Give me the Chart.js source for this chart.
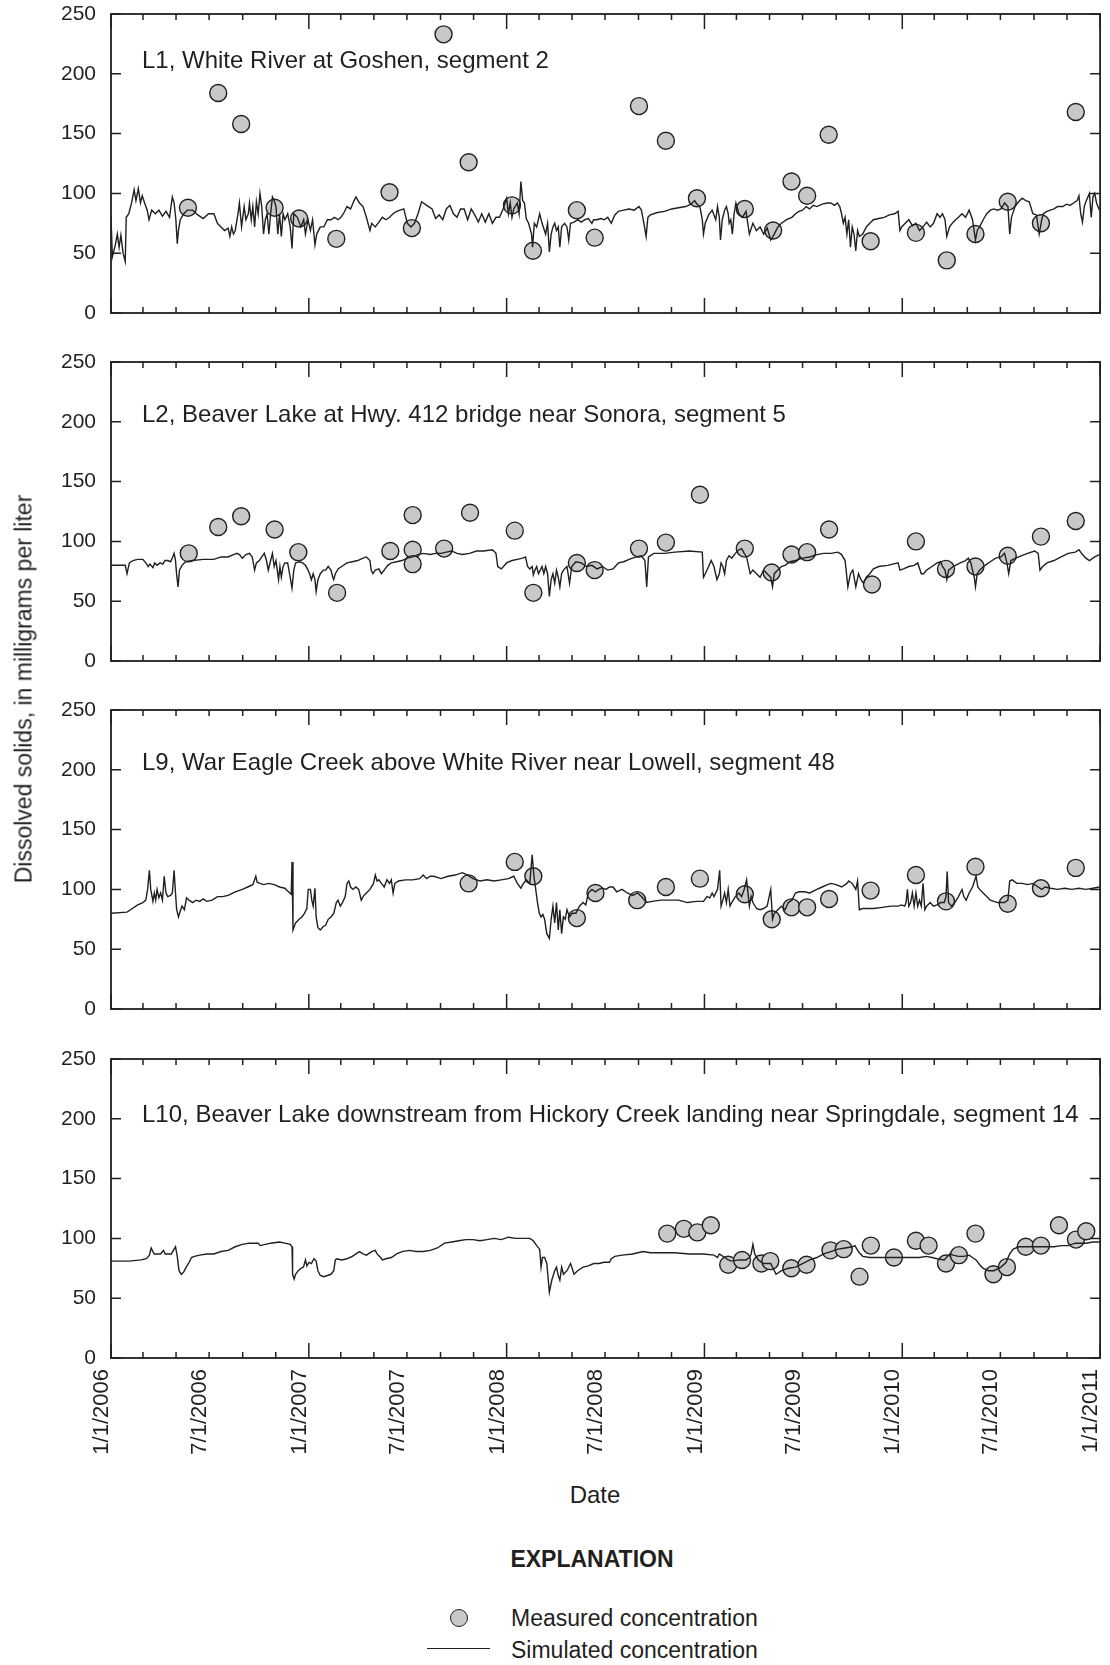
<!DOCTYPE html>
<html><head><meta charset="utf-8">
<script src="https://cdn.jsdelivr.net/npm/chart.js@4.4.1/dist/chart.umd.min.js"></script>
<style>
html,body{margin:0;padding:0;background:#fff;}
body{width:1110px;height:1665px;position:relative;overflow:hidden;font-family:'Liberation Sans',Arial,sans-serif;color:#231f20;}
canvas{position:absolute;left:0;}
.t{position:absolute;white-space:nowrap;line-height:1;}
</style></head><body>
<canvas id="c1" width="1110" height="327" style="top:0px"></canvas>
<canvas id="c2" width="1110" height="327" style="top:348px"></canvas>
<canvas id="c3" width="1110" height="327" style="top:696px"></canvas>
<canvas id="c4" width="1110" height="433" style="top:1045px"></canvas>
<div class="t" style="left:24px;top:689px;font-size:23px;transform:translate(-50%,-50%) rotate(-90deg)">Dissolved solids, in milligrams per liter</div>
<div class="t" style="left:595px;top:1482.7px;font-size:24px;transform:translateX(-50%)">Date</div>
<div class="t" style="left:592px;top:1547.5px;font-size:23px;font-weight:bold;transform:translateX(-50%)">EXPLANATION</div>
<div style="position:absolute;left:449.5px;top:1608.5px;width:18px;height:18px;box-sizing:border-box;border:1.5px solid #231f20;border-radius:50%;background:#c8c8c8"></div>
<div class="t" style="left:511px;top:1607px;font-size:23px">Measured concentration</div>
<div style="position:absolute;left:427px;top:1647.5px;width:63px;height:1.5px;background:#231f20"></div>
<div class="t" style="left:511px;top:1639px;font-size:23px">Simulated concentration</div>
<script>
// ---------------- DATA (x = decimal year, y = dissolved solids, mg/L) ----------------
const PANEL_TITLES = [
  'L1, White River at Goshen, segment 2',
  'L2, Beaver Lake at Hwy. 412 bridge near Sonora, segment 5',
  'L9, War Eagle Creek above White River near Lowell, segment 48',
  'L10, Beaver Lake downstream from Hickory Creek landing near Springdale, segment 14'
];
const Y_TICKS = [0, 50, 100, 150, 200, 250];
const X_LABELS = ['1/1/2006','7/1/2006','1/1/2007','7/1/2007','1/1/2008','7/1/2008','1/1/2009','7/1/2009','1/1/2010','7/1/2010','1/1/2011'];

const L1_MEAS = [[2006.389,88],[2006.542,184],[2006.658,158],[2006.827,88],[2006.951,79],[2007.139,62],[2007.408,101],[2007.521,71],[2007.681,233],[2007.808,126],[2008.027,90],[2008.133,52],[2008.355,86],[2008.445,63],[2008.669,173],[2008.805,144],[2008.962,96],[2009.204,87],[2009.347,69],[2009.440,110],[2009.519,98],[2009.628,149],[2009.840,60],[2010.069,67],[2010.225,44],[2010.370,66],[2010.533,93],[2010.701,75],[2010.877,168]];
const L2_MEAS = [[2006.393,90],[2006.542,112],[2006.658,121],[2006.827,110],[2006.947,91],[2007.143,57],[2007.412,92],[2007.525,122],[2007.525,93],[2007.525,81],[2007.684,94],[2007.815,124],[2008.041,109],[2008.135,57],[2008.355,82],[2008.445,76],[2008.669,94],[2008.805,99],[2008.977,139],[2009.204,94],[2009.340,74],[2009.440,89],[2009.519,91],[2009.630,110],[2009.847,64],[2010.069,100],[2010.221,77],[2010.370,79],[2010.533,88],[2010.701,104],[2010.877,117]];
const L9_MEAS = [[2007.808,105],[2008.041,123],[2008.135,111],[2008.355,76],[2008.449,97],[2008.660,91],[2008.805,102],[2008.977,109],[2009.204,96],[2009.340,75],[2009.440,85],[2009.519,85],[2009.630,92],[2009.840,99],[2010.069,112],[2010.221,90],[2010.370,119],[2010.533,88],[2010.701,101],[2010.877,118]];
const L10_MEAS = [[2008.812,104],[2008.896,108],[2008.964,105],[2009.032,111],[2009.120,78],[2009.190,82],[2009.288,79],[2009.333,81],[2009.439,75],[2009.516,78],[2009.637,90],[2009.704,91],[2009.784,68],[2009.841,94],[2009.958,84],[2010.069,98],[2010.133,94],[2010.221,79],[2010.286,86],[2010.370,104],[2010.461,70],[2010.529,76],[2010.624,93],[2010.701,94],[2010.792,111],[2010.878,99],[2010.930,106]];

const L1_SIM = [[2006.000,80],[2006.007,47],[2006.022,57],[2006.032,66],[2006.041,55],[2006.050,65],[2006.061,50],[2006.072,43],[2006.077,80],[2006.090,83],[2006.104,92],[2006.117,103],[2006.126,94],[2006.138,104],[2006.149,92],[2006.158,98],[2006.170,92],[2006.183,86],[2006.192,78],[2006.206,86],[2006.224,83],[2006.242,86],[2006.260,81],[2006.278,85],[2006.296,80],[2006.310,97],[2006.319,92],[2006.328,78],[2006.335,58],[2006.341,69],[2006.350,78],[2006.368,83],[2006.386,86],[2006.413,86],[2006.439,82],[2006.466,79],[2006.493,83],[2006.520,83],[2006.538,75],[2006.556,72],[2006.574,69],[2006.592,71],[2006.601,64],[2006.610,72],[2006.619,66],[2006.628,69],[2006.642,83],[2006.649,92],[2006.660,72],[2006.673,89],[2006.682,78],[2006.694,83],[2006.700,92],[2006.709,78],[2006.717,89],[2006.726,72],[2006.735,93],[2006.744,83],[2006.753,100],[2006.762,89],[2006.771,66],[2006.780,78],[2006.789,83],[2006.798,66],[2006.807,83],[2006.816,97],[2006.825,94],[2006.834,89],[2006.843,66],[2006.852,83],[2006.861,64],[2006.870,83],[2006.879,78],[2006.893,83],[2006.906,72],[2006.915,54],[2006.924,83],[2006.942,80],[2006.960,72],[2006.974,78],[2006.983,66],[2006.996,78],[2007.008,69],[2007.019,78],[2007.031,57],[2007.040,66],[2007.058,72],[2007.076,72],[2007.094,78],[2007.112,78],[2007.130,80],[2007.148,78],[2007.162,80],[2007.175,83],[2007.193,89],[2007.211,87],[2007.229,94],[2007.238,97],[2007.256,92],[2007.274,89],[2007.291,80],[2007.309,69],[2007.318,75],[2007.336,72],[2007.354,76],[2007.372,80],[2007.390,78],[2007.408,80],[2007.426,83],[2007.444,85],[2007.462,86],[2007.480,87],[2007.498,75],[2007.516,72],[2007.534,75],[2007.552,83],[2007.570,93],[2007.596,90],[2007.623,87],[2007.641,79],[2007.659,82],[2007.677,78],[2007.695,87],[2007.713,90],[2007.731,83],[2007.749,80],[2007.767,87],[2007.785,87],[2007.803,78],[2007.821,87],[2007.839,82],[2007.857,76],[2007.874,83],[2007.892,76],[2007.910,83],[2007.928,75],[2007.946,80],[2007.964,80],[2007.982,87],[2008.000,96],[2008.009,83],[2008.018,92],[2008.027,80],[2008.036,87],[2008.054,92],[2008.063,83],[2008.072,110],[2008.081,94],[2008.090,92],[2008.099,79],[2008.111,75],[2008.126,66],[2008.131,55],[2008.140,75],[2008.152,72],[2008.167,83],[2008.179,75],[2008.197,66],[2008.207,75],[2008.216,51],[2008.225,66],[2008.234,72],[2008.243,75],[2008.252,69],[2008.261,72],[2008.269,55],[2008.278,72],[2008.293,75],[2008.305,72],[2008.314,61],[2008.323,75],[2008.341,76],[2008.359,78],[2008.377,76],[2008.395,78],[2008.413,79],[2008.431,75],[2008.440,78],[2008.457,78],[2008.475,79],[2008.493,78],[2008.511,80],[2008.529,75],[2008.547,82],[2008.565,85],[2008.592,86],[2008.619,87],[2008.645,86],[2008.669,89],[2008.681,86],[2008.694,75],[2008.705,64],[2008.714,80],[2008.726,82],[2008.762,84],[2008.798,85],[2008.834,87],[2008.869,88],[2008.905,89],[2008.932,91],[2008.950,94],[2008.962,91],[2008.977,89],[2008.989,78],[2008.995,66],[2009.004,75],[2009.021,82],[2009.039,86],[2009.057,78],[2009.066,89],[2009.075,80],[2009.081,61],[2009.090,78],[2009.102,86],[2009.111,89],[2009.120,83],[2009.125,75],[2009.133,78],[2009.141,66],[2009.150,83],[2009.159,92],[2009.174,83],[2009.192,80],[2009.210,85],[2009.227,66],[2009.245,75],[2009.263,69],[2009.281,72],[2009.299,66],[2009.317,71],[2009.335,61],[2009.353,66],[2009.371,72],[2009.389,75],[2009.415,78],[2009.442,80],[2009.460,83],[2009.478,85],[2009.496,86],[2009.514,89],[2009.532,87],[2009.550,90],[2009.568,89],[2009.595,91],[2009.622,92],[2009.639,92],[2009.657,90],[2009.672,92],[2009.684,89],[2009.693,83],[2009.702,75],[2009.711,80],[2009.720,66],[2009.729,78],[2009.738,55],[2009.747,72],[2009.756,66],[2009.765,52],[2009.774,69],[2009.783,64],[2009.800,66],[2009.818,72],[2009.836,75],[2009.854,78],[2009.881,79],[2009.908,80],[2009.935,82],[2009.961,83],[2009.979,85],[2009.988,69],[2009.997,72],[2010.015,75],[2010.033,78],[2010.051,73],[2010.069,75],[2010.087,69],[2010.105,72],[2010.123,76],[2010.141,72],[2010.158,75],[2010.176,83],[2010.191,80],[2010.203,83],[2010.216,78],[2010.225,64],[2010.239,72],[2010.257,76],[2010.284,80],[2010.302,83],[2010.320,80],[2010.338,86],[2010.355,78],[2010.370,61],[2010.379,69],[2010.391,72],[2010.409,78],[2010.427,83],[2010.445,86],[2010.463,87],[2010.481,86],[2010.499,87],[2010.517,92],[2010.534,89],[2010.543,66],[2010.552,80],[2010.570,89],[2010.588,93],[2010.606,96],[2010.624,94],[2010.642,93],[2010.660,83],[2010.678,82],[2010.692,66],[2010.705,78],[2010.713,83],[2010.731,85],[2010.749,86],[2010.767,87],[2010.785,89],[2010.812,89],[2010.830,91],[2010.848,90],[2010.866,92],[2010.884,94],[2010.893,98],[2010.902,83],[2010.911,76],[2010.920,89],[2010.928,93],[2010.946,100],[2010.955,80],[2010.964,97],[2010.973,100],[2010.982,92],[2010.997,86]];

const L2_SIM = [[2006.000,80],[2006.072,80],[2006.081,73],[2006.093,82],[2006.111,84],[2006.135,85],[2006.161,85],[2006.176,82],[2006.188,79],[2006.197,81],[2006.212,78],[2006.221,82],[2006.233,80],[2006.248,82],[2006.262,81],[2006.273,84],[2006.287,84],[2006.301,83],[2006.312,87],[2006.319,90],[2006.326,84],[2006.332,72],[2006.339,62],[2006.346,76],[2006.359,80],[2006.377,83],[2006.413,84],[2006.466,85],[2006.520,85],[2006.556,87],[2006.592,87],[2006.619,89],[2006.637,90],[2006.649,89],[2006.664,86],[2006.682,89],[2006.700,90],[2006.714,87],[2006.726,76],[2006.735,82],[2006.750,84],[2006.762,87],[2006.775,90],[2006.786,84],[2006.795,76],[2006.807,84],[2006.816,90],[2006.825,79],[2006.834,84],[2006.847,68],[2006.854,79],[2006.861,70],[2006.870,79],[2006.879,82],[2006.893,82],[2006.906,70],[2006.915,61],[2006.924,76],[2006.933,82],[2006.951,83],[2006.969,82],[2006.983,80],[2006.996,76],[2007.004,73],[2007.013,68],[2007.022,73],[2007.031,68],[2007.037,58],[2007.046,68],[2007.058,73],[2007.073,76],[2007.085,76],[2007.098,79],[2007.112,76],[2007.121,70],[2007.126,68],[2007.134,73],[2007.148,77],[2007.166,79],[2007.193,82],[2007.220,83],[2007.247,84],[2007.274,86],[2007.291,87],[2007.309,84],[2007.315,76],[2007.324,73],[2007.336,76],[2007.354,77],[2007.367,73],[2007.381,76],[2007.399,80],[2007.417,82],[2007.444,83],[2007.471,84],[2007.498,86],[2007.525,87],[2007.552,89],[2007.578,90],[2007.614,89],[2007.641,90],[2007.668,90],[2007.695,91],[2007.722,92],[2007.749,90],[2007.776,89],[2007.812,90],[2007.848,92],[2007.883,92],[2007.928,93],[2007.946,90],[2007.955,79],[2007.973,77],[2008.000,82],[2008.027,84],[2008.054,85],[2008.081,86],[2008.095,87],[2008.106,79],[2008.117,77],[2008.129,79],[2008.135,72],[2008.143,76],[2008.152,79],[2008.161,73],[2008.170,76],[2008.179,79],[2008.188,73],[2008.197,79],[2008.207,73],[2008.216,54],[2008.225,68],[2008.234,73],[2008.243,65],[2008.252,76],[2008.261,70],[2008.269,62],[2008.278,73],[2008.287,76],[2008.305,79],[2008.318,65],[2008.329,79],[2008.350,83],[2008.377,82],[2008.404,79],[2008.431,80],[2008.457,77],[2008.484,79],[2008.511,76],[2008.538,77],[2008.565,82],[2008.592,83],[2008.619,85],[2008.655,87],[2008.681,88],[2008.699,84],[2008.708,62],[2008.717,87],[2008.744,90],[2008.798,90],[2008.851,91],[2008.923,92],[2008.989,91],[2008.995,70],[2009.004,73],[2009.021,79],[2009.034,84],[2009.048,79],[2009.063,68],[2009.075,73],[2009.084,82],[2009.093,79],[2009.102,73],[2009.111,84],[2009.124,88],[2009.138,86],[2009.156,90],[2009.174,93],[2009.188,94],[2009.201,90],[2009.213,87],[2009.231,73],[2009.245,76],[2009.263,73],[2009.281,70],[2009.299,76],[2009.317,73],[2009.335,70],[2009.344,62],[2009.353,73],[2009.371,76],[2009.389,79],[2009.407,80],[2009.433,83],[2009.460,84],[2009.496,86],[2009.532,87],[2009.568,89],[2009.603,90],[2009.639,90],[2009.675,91],[2009.693,89],[2009.711,84],[2009.725,62],[2009.738,73],[2009.750,76],[2009.765,62],[2009.779,73],[2009.791,68],[2009.804,65],[2009.818,70],[2009.836,73],[2009.854,77],[2009.881,79],[2009.926,80],[2009.979,82],[2009.988,76],[2010.006,77],[2010.033,79],[2010.060,80],[2010.078,82],[2010.096,73],[2010.108,73],[2010.123,76],[2010.150,79],[2010.176,82],[2010.194,83],[2010.203,79],[2010.216,76],[2010.225,68],[2010.234,76],[2010.257,79],[2010.293,82],[2010.320,84],[2010.334,86],[2010.347,82],[2010.355,76],[2010.364,70],[2010.370,62],[2010.379,73],[2010.391,76],[2010.418,80],[2010.445,83],[2010.472,86],[2010.499,87],[2010.517,90],[2010.529,82],[2010.538,73],[2010.549,84],[2010.588,87],[2010.633,90],[2010.669,92],[2010.687,90],[2010.696,76],[2010.710,79],[2010.731,82],[2010.767,84],[2010.803,87],[2010.839,90],[2010.875,91],[2010.893,93],[2010.911,89],[2010.928,86],[2010.946,84],[2010.973,87],[2010.997,89]];

const L9_SIM = [[2006.000,80],[2006.081,81],[2006.108,84],[2006.135,87],[2006.161,89],[2006.176,91],[2006.185,100],[2006.194,116],[2006.201,100],[2006.212,90],[2006.219,97],[2006.226,91],[2006.233,100],[2006.242,93],[2006.251,97],[2006.260,91],[2006.269,111],[2006.278,97],[2006.287,94],[2006.301,95],[2006.310,97],[2006.319,116],[2006.326,97],[2006.332,83],[2006.341,77],[2006.350,82],[2006.359,86],[2006.371,83],[2006.382,93],[2006.395,91],[2006.413,89],[2006.430,91],[2006.448,90],[2006.466,92],[2006.484,90],[2006.511,91],[2006.538,94],[2006.565,94],[2006.592,95],[2006.628,98],[2006.664,100],[2006.691,102],[2006.717,104],[2006.732,111],[2006.739,106],[2006.753,105],[2006.771,104],[2006.798,105],[2006.825,104],[2006.852,102],[2006.879,101],[2006.897,98],[2006.911,96],[2006.915,123],[2006.920,66],[2006.933,72],[2006.951,75],[2006.965,77],[2006.978,80],[2006.990,84],[2006.997,100],[2007.008,100],[2007.015,91],[2007.022,86],[2007.031,101],[2007.037,77],[2007.046,68],[2007.058,66],[2007.073,69],[2007.085,70],[2007.098,75],[2007.112,77],[2007.126,80],[2007.139,89],[2007.148,91],[2007.159,86],[2007.170,89],[2007.184,94],[2007.193,105],[2007.202,107],[2007.211,102],[2007.223,100],[2007.238,102],[2007.252,100],[2007.265,91],[2007.274,94],[2007.291,97],[2007.309,100],[2007.327,105],[2007.336,112],[2007.345,107],[2007.354,108],[2007.367,105],[2007.381,102],[2007.395,108],[2007.408,105],[2007.417,108],[2007.426,97],[2007.435,105],[2007.453,107],[2007.489,108],[2007.525,108],[2007.561,109],[2007.578,112],[2007.596,109],[2007.614,111],[2007.632,111],[2007.668,109],[2007.704,111],[2007.740,112],[2007.776,114],[2007.803,112],[2007.830,109],[2007.865,107],[2007.901,108],[2007.937,107],[2007.973,108],[2008.009,109],[2008.036,111],[2008.054,105],[2008.072,101],[2008.081,104],[2008.099,108],[2008.117,105],[2008.129,129],[2008.138,111],[2008.147,100],[2008.156,89],[2008.165,80],[2008.174,77],[2008.183,79],[2008.192,75],[2008.203,63],[2008.216,59],[2008.225,75],[2008.234,86],[2008.243,72],[2008.252,89],[2008.261,66],[2008.269,83],[2008.278,63],[2008.287,77],[2008.296,75],[2008.305,83],[2008.318,77],[2008.332,80],[2008.350,80],[2008.368,86],[2008.386,89],[2008.400,87],[2008.413,97],[2008.431,100],[2008.449,98],[2008.466,100],[2008.484,101],[2008.502,100],[2008.520,102],[2008.538,102],[2008.556,98],[2008.583,100],[2008.610,97],[2008.637,95],[2008.663,97],[2008.681,94],[2008.708,89],[2008.735,90],[2008.780,91],[2008.825,91],[2008.869,91],[2008.914,89],[2008.959,90],[2008.995,90],[2009.013,94],[2009.027,93],[2009.039,97],[2009.048,94],[2009.066,100],[2009.077,116],[2009.084,86],[2009.093,91],[2009.102,97],[2009.111,89],[2009.120,100],[2009.129,86],[2009.138,89],[2009.156,94],[2009.174,97],[2009.188,94],[2009.201,100],[2009.213,108],[2009.227,86],[2009.236,94],[2009.245,89],[2009.263,84],[2009.281,83],[2009.299,84],[2009.317,86],[2009.335,100],[2009.344,75],[2009.353,80],[2009.371,83],[2009.389,86],[2009.407,83],[2009.424,89],[2009.442,91],[2009.460,97],[2009.478,98],[2009.505,98],[2009.532,97],[2009.568,100],[2009.595,102],[2009.621,104],[2009.639,105],[2009.666,104],[2009.693,102],[2009.720,105],[2009.729,107],[2009.747,105],[2009.765,100],[2009.774,107],[2009.783,83],[2009.800,84],[2009.818,84],[2009.854,84],[2009.899,85],[2009.943,86],[2009.979,86],[2009.997,87],[2010.012,86],[2010.019,89],[2010.026,100],[2010.033,86],[2010.042,89],[2010.051,97],[2010.060,86],[2010.069,97],[2010.078,86],[2010.087,91],[2010.096,86],[2010.105,105],[2010.114,83],[2010.123,86],[2010.141,89],[2010.158,86],[2010.176,87],[2010.194,89],[2010.212,89],[2010.221,94],[2010.227,115],[2010.234,89],[2010.248,86],[2010.266,89],[2010.284,94],[2010.302,100],[2010.311,94],[2010.323,91],[2010.338,97],[2010.355,102],[2010.373,111],[2010.382,102],[2010.391,100],[2010.409,97],[2010.427,94],[2010.445,91],[2010.463,90],[2010.481,89],[2010.499,89],[2010.517,89],[2010.534,91],[2010.543,107],[2010.556,108],[2010.579,105],[2010.606,105],[2010.633,104],[2010.660,105],[2010.687,102],[2010.705,100],[2010.722,102],[2010.749,101],[2010.785,100],[2010.821,101],[2010.857,100],[2010.893,101],[2010.928,100],[2010.964,101],[2010.997,102]];

const L10_SIM = [[2006.000,81],[2006.090,81],[2006.152,82],[2006.179,83],[2006.194,86],[2006.203,92],[2006.212,89],[2006.219,87],[2006.251,87],[2006.265,90],[2006.274,87],[2006.287,87],[2006.305,87],[2006.319,91],[2006.326,93],[2006.334,86],[2006.344,73],[2006.355,70],[2006.368,72],[2006.380,76],[2006.395,80],[2006.407,84],[2006.422,85],[2006.448,86],[2006.484,87],[2006.520,87],[2006.556,89],[2006.592,90],[2006.628,93],[2006.664,95],[2006.700,96],[2006.735,96],[2006.744,96],[2006.753,94],[2006.780,95],[2006.807,96],[2006.852,97],[2006.879,96],[2006.906,95],[2006.915,93],[2006.918,70],[2006.926,66],[2006.933,70],[2006.947,73],[2006.960,75],[2006.973,76],[2006.983,82],[2006.990,77],[2007.001,80],[2007.013,79],[2007.026,83],[2007.037,81],[2007.046,73],[2007.058,69],[2007.076,68],[2007.094,69],[2007.112,70],[2007.126,73],[2007.134,82],[2007.141,83],[2007.166,82],[2007.193,83],[2007.220,85],[2007.238,87],[2007.256,89],[2007.274,87],[2007.291,86],[2007.318,89],[2007.336,90],[2007.345,87],[2007.363,84],[2007.372,82],[2007.390,83],[2007.417,84],[2007.444,87],[2007.471,89],[2007.507,90],[2007.543,89],[2007.578,89],[2007.614,90],[2007.650,92],[2007.686,96],[2007.722,97],[2007.758,98],[2007.794,99],[2007.830,99],[2007.865,98],[2007.901,99],[2007.937,100],[2007.973,99],[2008.009,101],[2008.045,100],[2008.081,100],[2008.117,100],[2008.135,98],[2008.152,94],[2008.167,91],[2008.174,76],[2008.181,84],[2008.192,84],[2008.203,79],[2008.216,55],[2008.228,65],[2008.243,73],[2008.252,76],[2008.261,69],[2008.269,65],[2008.278,76],[2008.287,70],[2008.305,73],[2008.323,79],[2008.341,70],[2008.359,73],[2008.386,76],[2008.413,77],[2008.440,79],[2008.466,79],[2008.493,80],[2008.520,80],[2008.529,83],[2008.547,85],[2008.583,86],[2008.637,87],[2008.690,89],[2008.726,88],[2008.780,88],[2008.851,88],[2008.923,87],[2008.995,87],[2009.048,86],[2009.066,84],[2009.075,87],[2009.084,86],[2009.102,84],[2009.120,82],[2009.138,81],[2009.174,82],[2009.210,82],[2009.227,84],[2009.236,87],[2009.245,95],[2009.254,87],[2009.272,82],[2009.299,79],[2009.335,79],[2009.362,70],[2009.389,73],[2009.424,75],[2009.460,76],[2009.496,79],[2009.532,82],[2009.568,84],[2009.603,87],[2009.639,89],[2009.675,91],[2009.711,92],[2009.747,93],[2009.761,94],[2009.774,90],[2009.783,88],[2009.800,85],[2009.836,84],[2009.890,84],[2009.943,84],[2009.997,84],[2010.051,84],[2010.087,84],[2010.123,85],[2010.150,84],[2010.176,83],[2010.212,82],[2010.239,87],[2010.257,86],[2010.284,85],[2010.311,85],[2010.338,86],[2010.355,84],[2010.373,82],[2010.391,78],[2010.409,75],[2010.436,73],[2010.463,73],[2010.499,76],[2010.525,80],[2010.543,87],[2010.561,91],[2010.588,93],[2010.624,93],[2010.660,93],[2010.696,93],[2010.731,93],[2010.767,93],[2010.803,94],[2010.839,94],[2010.875,96],[2010.893,96],[2010.928,96],[2010.964,97],[2010.997,97]];

// ---------------- CHART SETUP ----------------
const INK = '#231f20';
const DOT = '#c8c8c8';
const SANS = "'Liberation Sans',Arial,sans-serif";

function decYear(y, m, d) {
  const a = Date.UTC(y, 0, 1), b = Date.UTC(y + 1, 0, 1);
  return y + (Date.UTC(y, m - 1, d) - a) / (b - a);
}
// x ticks: every two months, labels at 1/1 and 7/1
const X_TICKS = [];
for (let yr = 2006; yr <= 2011; yr++) {
  for (let m = 1; m <= 11; m += 2) {
    if (yr === 2011 && m > 1) break;
    const lab = m + '/1/' + yr;
    X_TICKS.push({ value: decYear(yr, m, 1), label: X_LABELS.includes(lab) ? lab : '', major: m === 1 });
  }
}

const deco = {
  id: 'deco',
  afterDatasetsDraw(chart, args, o) {
    const { ctx, chartArea: a, scales: { x, y } } = chart;
    ctx.save();
    ctx.strokeStyle = INK;
    ctx.lineWidth = 1.5;
    ctx.beginPath();
    X_TICKS.forEach(t => {
      const px = x.getPixelForValue(t.value);
      const len = t.major ? 15 : 6;
      ctx.moveTo(px, a.bottom); ctx.lineTo(px, a.bottom - len);
      ctx.moveTo(px, a.top); ctx.lineTo(px, a.top + len);
    });
    Y_TICKS.forEach(v => {
      const py = y.getPixelForValue(v);
      ctx.moveTo(a.left, py); ctx.lineTo(a.left + 10, py);
      ctx.moveTo(a.right, py); ctx.lineTo(a.right - 10, py);
    });
    ctx.stroke();
    ctx.lineWidth = 1.8;
    ctx.strokeRect(a.left, a.top, a.right - a.left, a.bottom - a.top);
    ctx.fillStyle = INK;
    ctx.font = '24px ' + SANS;
    ctx.textAlign = 'left';
    ctx.textBaseline = 'alphabetic';
    ctx.fillText(o.title, 142, o.titleY);
    ctx.restore();
  }
};

function toXY(arr) { return arr.map(p => ({ x: p[0], y: p[1] })); }

function makePanel(id, sim, meas, title, titleY, showX) {
  new Chart(document.getElementById(id), {
    type: 'scatter',
    data: {
      datasets: [
        { label: 'Simulated concentration', data: toXY(sim), showLine: true, borderColor: INK, borderWidth: 1.4,
          pointRadius: 0, tension: 0, order: 0, fill: false },
        { label: 'Measured concentration', data: toXY(meas), showLine: false, pointRadius: 8.5,
          pointBackgroundColor: DOT, pointBorderColor: INK, pointBorderWidth: 1.4, order: 1 }
      ]
    },
    options: {
      responsive: false, animation: false, events: [],
      layout: { padding: { top: 14, right: 3, bottom: showX ? 0 : 14, left: 0 } },
      plugins: { legend: { display: false }, tooltip: { enabled: false }, deco: { title, titleY } },
      scales: {
        x: {
          type: 'linear', min: 2006, max: 2011,
          grid: { display: false, drawTicks: false }, border: { display: false },
          afterBuildTicks: s => { s.ticks = X_TICKS.map(t => ({ value: t.value })); },
          ticks: {
            display: showX, autoSkip: false, minRotation: 90, maxRotation: 90, padding: 11, labelOffset: -9,
            color: INK, font: { family: SANS, size: 22 },
            callback: (v, i) => X_TICKS[i] ? X_TICKS[i].label : ''
          },
          afterFit: s => { s.height = showX ? 120 : 0; s.paddingLeft = 0; s.paddingRight = 0; }
        },
        y: {
          min: 0, max: 250,
          grid: { display: false, drawTicks: false }, border: { display: false },
          ticks: { stepSize: 50, padding: 15, color: INK, font: { family: SANS, size: 21 } },
          afterFit: s => { s.width = 111; s.paddingTop = 0; s.paddingBottom = 0; }
        }
      }
    },
    plugins: [deco]
  });
}

makePanel('c1', L1_SIM, L1_MEAS, PANEL_TITLES[0], 68, false);
makePanel('c2', L2_SIM, L2_MEAS, PANEL_TITLES[1], 73.5, false);
makePanel('c3', L9_SIM, L9_MEAS, PANEL_TITLES[2], 74, false);
makePanel('c4', L10_SIM, L10_MEAS, PANEL_TITLES[3], 76.5, true);
</script>
</body></html>
